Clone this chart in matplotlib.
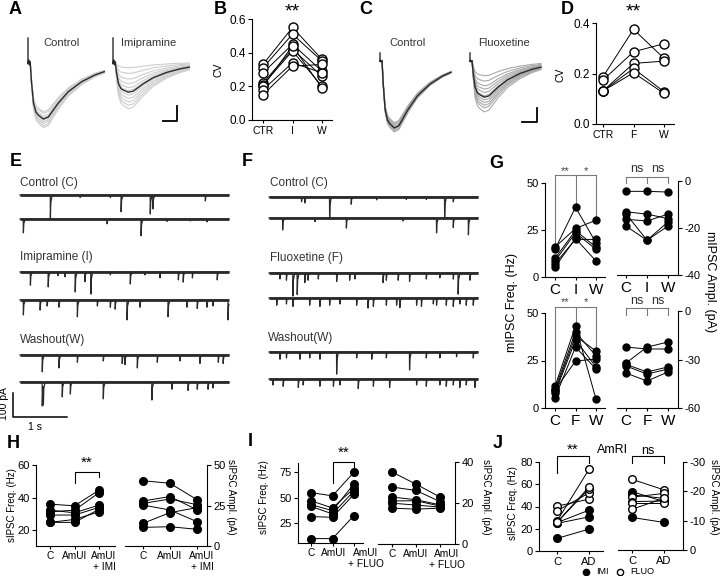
import numpy as np
import matplotlib
matplotlib.use('Agg')
import matplotlib.pyplot as plt

plt.rcParams['font.family'] = ['Liberation Sans', 'DejaVu Sans']
plt.rcParams['axes.unicode_minus'] = False

# ---------------- data ----------------
# A / C: averaged mIPSC template (time in ms-ish units, normalised amplitude)
tmpl_t = [0, 2.2, 3.5, 5.5, 8.0, 10.3, 15.3, 20.3, 30.3, 40.3, 53.7, 67.0, 76.3]
tmpl_a = [0, 0, -0.35, -0.72, -0.88, -0.93, -1.0, -0.965, -0.72, -0.52, -0.345, -0.227, -0.169]
artifact_t = [0, 0, 0.8, 1.5, 2.2]
artifact_a = [1, -0.08, 0.08, -0.12, 0]

a_ctrl_gray = [1.15, 1.12, 1.08, 1.05, 1.02, 0.98, 0.95, 0.9, 0.87]
a_ctrl_mean = 1.0
a_imi_gray = [0.82, 0.76, 0.7, 0.64, 0.58, 0.5, 0.45, 0.38, 0.3, 0.2, 0.1]
a_imi_mean = 0.53
c_ctrl_gray = [1.06, 1.04, 1.02, 1.0, 0.98, 0.96, 0.94, 0.92]
c_ctrl_mean = 1.0
c_flu_gray = [0.76, 0.7, 0.66, 0.62, 0.58, 0.52, 0.47, 0.42, 0.37, 0.3, 0.22]
c_flu_mean = 0.54

# B: CV imipramine
cv_imi_ctr = [0.33, 0.31, 0.28, 0.22, 0.21, 0.20, 0.18, 0.15]
cv_imi_i = [0.55, 0.51, 0.45, 0.42, 0.41, 0.44, 0.34, 0.32]
cv_imi_w = [0.36, 0.35, 0.29, 0.26, 0.20, 0.19, 0.28, 0.33]
# D: CV fluoxetine
cv_flu_ctr = [0.187, 0.174, 0.131, 0.131, 0.131]
cv_flu_f = [0.375, 0.286, 0.24, 0.22, 0.203]
cv_flu_w = [0.26, 0.318, 0.249, 0.128, 0.121]

# E / F: mIPSC events per trace (time s, amplitude pA)
e_times = [
    [0.56, 1.11, 1.67, 1.87, 2.41, 2.46, 3.43],
    [0.06, 1.61, 2.24, 2.72, 3.15, 3.46],
    [0.19, 0.52, 0.70, 0.83, 1.02, 1.20, 1.31, 1.67, 2.04, 2.31, 2.59, 2.93, 3.02, 3.19, 3.65],
    [0.06, 0.37, 0.50, 0.72, 1.06, 1.43, 1.67, 1.76, 1.98, 2.22, 2.74, 3.09, 3.28, 3.46, 3.57, 3.85],
    [0.41, 0.72, 1.06, 1.54, 1.89, 1.94, 2.17, 2.54, 2.96, 3.33, 3.67, 3.76],
    [0.41, 0.43, 0.78, 0.93, 1.54, 2.44, 2.81, 3.11, 3.28, 3.48, 3.57],
]
e_amps = [
    [96, 10, 10, 70, 79, 58, 25],
    [58, 20, 70, 10, 8, 12],
    [55, 62, 15, 20, 83, 40, 92, 12, 50, 12, 25, 33, 42, 25, 33],
    [62, 42, 25, 30, 70, 25, 30, 38, 83, 30, 70, 30, 35, 30, 25, 83],
    [70, 54, 30, 25, 35, 40, 54, 30, 25, 35, 30, 35],
    [100, 80, 62, 50, 70, 75, 30, 35, 30, 30, 25],
]
f_times = [
    [0.60, 0.66, 1.12, 1.52, 1.99, 2.54, 2.91, 3.25, 3.41],
    [0.25, 0.85, 1.43, 2.48, 3.10, 3.41, 3.69],
    [0.20, 0.32, 0.44, 0.52, 0.66, 0.72, 0.91, 1.25, 1.49, 1.59, 2.11, 2.17, 2.39, 2.60, 2.91,
     3.16, 3.41, 3.50, 3.72],
    [0.14, 0.32, 0.44, 0.75, 0.94, 1.12, 1.31, 1.62, 1.83, 1.93, 2.17, 2.36, 2.42, 2.73, 2.82,
     3.04, 3.10, 3.28, 3.41, 3.53, 3.65, 3.78],
    [0.20, 0.32, 0.57, 0.75, 0.94, 1.25, 1.62, 1.90, 2.17, 2.60, 2.91, 3.16, 3.47, 3.78],
    [0.07, 0.26, 0.54, 0.63, 0.94, 1.19, 1.31, 1.65, 1.93, 2.23, 2.73, 2.91, 3.16, 3.28, 3.41,
     3.53, 3.65, 3.81],
]
f_amps = [
    [20, 25, 92, 30, 12, 10, 10, 83, 20],
    [50, 15, 42, 12, 62, 40, 70],
    [25, 30, 96, 90, 40, 30, 25, 35, 30, 25, 40, 30, 30, 35, 25, 20, 25, 88, 30],
    [30, 25, 35, 30, 35, 30, 25, 30, 42, 35, 30, 30, 40, 30, 35, 25, 30, 30, 35, 25, 30, 30],
    [30, 25, 30, 25, 30, 92, 25, 30, 25, 75, 25, 25, 20, 25],
    [25, 30, 35, 25, 30, 30, 25, 40, 30, 35, 25, 30, 25, 30, 25, 35, 25, 35],
]
event_kernel_t = [0, 0.003, 0.009, 0.035]
event_kernel_a = [0, 1, 0.35, 0]

# G: mIPSC frequency / amplitude
g_imi_freq = [[15.9, 14.7, 9.9, 8.5, 7.1, 5.3],
              [25.8, 37.1, 24.7, 23.5, 20.0, 20.5],
              [30.2, 18.2, 15.9, 14.7, 20.0, 8.5]]
g_imi_amp = [[-4.4, -13.1, -16.3, -19.2, -14.0],
             [-4.4, -14.1, -17.0, -25.2, -25.2],
             [-4.7, -16.0, -14.1, -17.4, -19.2]]
g_flu_freq = [[11.4, 10.0, 8.8, 7.9, 5.3, 9.5],
              [43.2, 40.0, 37.9, 35.8, 32.1, 24.7],
              [4.7, 27.4, 30.0, 21.6, 20.5, 25.8]]
g_flu_amp = [[-22.3, -32.2, -34.0, -38.4, -33.0],
             [-23.5, -22.3, -39.0, -43.3, -37.7],
             [-23.5, -19.2, -35.9, -37.7, -34.6]]

# H
h_freq = [[35.9, 31.2, 32.2, 29.2, 24.7, 24.7],
          [34.9, 32.2, 30.6, 29.2, 26.5, 24.7],
          [44.5, 42.9, 35.3, 33.9, 31.2, 32.7]]
h_amp = [[40.3, 27.8, 26.3, 25.3, 14.0, 11.5],
         [38.7, 30.5, 29.0, 22.2, 20.6, 11.9],
         [28.6, 22.4, 25.5, 15.0, 23.7, 10.3]]
h_labels = ['C', 'AmUI', 'AmUI\n+ IMI']
# I
i_freq = [[54.8, 46.8, 43.0, 41.3, 31.3, 9.7],
          [51.6, 39.7, 37.1, 33.9, 30.6, 9.7],
          [74.8, 59.0, 63.5, 56.5, 53.2, 32.3]]
i_amp = [[35.1, 27.8, 22.9, 21.0, 19.9, 17.5],
         [29.2, 26.1, 21.6, 21.1, 19.0, 17.0],
         [22.9, 20.7, 19.1, 18.5, 18.0, 17.5]]
i_labels = ['C', 'AmUI', 'AmUI\n+ FLUO']
# J
j_freq_imi = [[11.3, 24.8, 25.5], [19.7, 30.7, 36.7]]
j_freq_flu = [[40.3, 36.1, 26.9, 25.7, 25.7], [46.6, 52.2, 73.4, 56.1, 57.6]]
j_amp_imi = [[-19.9, -18.8, -11.1], [-16.5, -17.6, -9.4]]
j_amp_flu = [[-24.1, -18.0, -16.5, -15.9, -13.9], [-20.5, -19.3, -16.7, -15.9, -17.6]]

# ---------------- helpers ----------------
W, H = 720, 576
fig = plt.figure(figsize=(7.2, 5.76), dpi=100)
DARK = '#2a2a2a'
XLAB = 7.3


def add_ax(x0, x1, y0, y1):
    return fig.add_axes([x0 / W, 1 - y1 / H, (x1 - x0) / W, (y1 - y0) / H])


def lim_from(p0, p1, pa, va, pb, vb):
    k = (vb - va) / (pb - pa)
    return va + (p0 - pa) * k, va + (p1 - pa) * k


def ftext(x, y, s, **kw):
    kw.setdefault('ha', 'center')
    kw.setdefault('va', 'center')
    fig.text(x / W, 1 - y / H, s, **kw)


def style(ax, side='left', ylab_size=8, xlab_size=XLAB):
    for s in ['top', 'right', 'left']:
        ax.spines[s].set_visible(False)
    ax.spines[side].set_visible(True)
    for s in ax.spines.values():
        s.set_linewidth(0.8)
    if side == 'right':
        ax.yaxis.tick_right()
    ax.tick_params(axis='y', direction='out', length=3, width=0.8, labelsize=ylab_size, pad=1.5)
    ax.tick_params(axis='x', direction='out', length=2, width=0.8, labelsize=xlab_size, pad=2)
    ax.patch.set_alpha(0)


def xlabels(ax, labels, shifts_px, size=XLAB):
    # category labels under the axis; shifts in pixels (last label sits right of its tick)
    ax.set_xticks(range(len(labels)))
    ax.set_xticklabels([''] * len(labels))
    for i, (lab, dx) in enumerate(zip(labels, shifts_px)):
        ax.annotate(lab, xy=(i, 0), xycoords=('data', 'axes fraction'),
                    xytext=(dx * 0.72, -3.5), textcoords='offset points',
                    ha='center', va='top', fontsize=size, linespacing=1.1,
                    annotation_clip=False)


def paired(ax, groups, filled=True, ms=5.5, mew=1.0):
    xs = list(range(len(groups)))
    for j in range(len(groups[0])):
        ax.plot(xs, [g[j] for g in groups], '-', color='k', lw=0.7, zorder=2, clip_on=False)
    for i, g in enumerate(groups):
        ax.plot([i] * len(g), g, 'o', ls='none', ms=ms, mfc='k' if filled else 'white',
                mec='k', mew=mew, zorder=3, clip_on=False)


def draw_avg(ax, scales, mean, amp, t0, tscale, color, art_h):
    t = np.array(tmpl_t) * tscale + t0
    for s in scales:
        ax.plot(t, np.array(tmpl_a) * amp * s, color=color, lw=0.8)
    ax.plot(t, np.array(tmpl_a) * amp * mean, color=DARK, lw=1.0)
    ax.plot(np.array(artifact_t) * tscale + t0, np.array(artifact_a) * art_h, color=DARK, lw=1.0)


def draw_traces(ax, times, amps, rows, ypx):
    grid = np.arange(0, 3.87, 0.001)
    for tr, am, r in zip(times, amps, rows):
        y = np.zeros_like(grid)
        for t, a in zip(tr, am):
            y -= a * np.interp(grid - t, event_kernel_t, event_kernel_a, left=0, right=0)
        base = ypx(r)
        # noisy baseline band plus thin event trace
        ax.plot([grid[0], grid[-1]], [base - 1.5, base - 1.5], color=DARK, lw=2.0,
                solid_capstyle='butt')
        ax.plot(grid, y + base, color=DARK, lw=0.9)


def sig_text(ax, x, y, s, size=9, color='k'):
    ax.text(x, y, s, ha='center', va='center', fontsize=size, color=color, clip_on=False)


# ---------------- A ----------------
ax = add_ax(20, 195, 28, 135)
ax.set_xlim(-8, 167)
ax.set_ylim(-73, 34)
ax.axis('off')
draw_avg(ax, a_ctrl_gray, a_ctrl_mean, 57, 0, 1.0, '#cdcdcd', 24)
draw_avg(ax, a_imi_gray, a_imi_mean, 57, 85, 1.0, '#cdcdcd', 24)
ax.plot([135, 149, 149], [-59, -59, -44], color='k', lw=1.3)
ftext(61, 43, 'Control', fontsize=8, color='#333333')
ftext(149, 43, 'Imipramine', fontsize=8, color='#333333')

# ---------------- C ----------------
ax = add_ax(372, 550, 28, 135)
ax.set_xlim(-8, 170)
ax.set_ylim(-74, 33)
ax.axis('off')
draw_avg(ax, c_ctrl_gray, c_ctrl_mean, 67, 0, 0.93, '#a9a9a9', 8)
draw_avg(ax, c_flu_gray, c_flu_mean, 67, 90, 0.93, '#a9a9a9', 8)
ax.plot([142, 157, 157], [-61, -61, -47], color='k', lw=1.3)
ftext(407, 43, 'Control', fontsize=8, color='#333333')
ftext(504, 43, 'Fluoxetine', fontsize=8, color='#333333')

# ---------------- B ----------------
ax = add_ax(252, 332, 19, 120)
ax.set_xlim(lim_from(252, 332, 263, 0, 322, 2))
ax.set_ylim(0, 0.6)
style(ax, ylab_size=8.5, xlab_size=7.5)
paired(ax, [cv_imi_ctr, cv_imi_i, cv_imi_w], filled=False, ms=6.5)
ax.set_yticks([0, 0.2, 0.4, 0.6])
ax.set_yticklabels(['0.0', '0.2', '0.4', '0.6'])
ax.set_xticks([0, 1, 2])
ax.set_xticklabels(['CTR', 'I', 'W'])
ftext(219, 70, 'CV', fontsize=7.5, rotation=90)
ftext(292, 12, '**', fontsize=14)

# ---------------- D ----------------
ax = add_ax(596, 674, 23, 124)
ax.set_xlim(lim_from(596, 674, 603, 0, 664, 2))
ax.set_ylim(0, 0.4)
style(ax, ylab_size=8.5, xlab_size=7.5)
paired(ax, [cv_flu_ctr, cv_flu_f, cv_flu_w], filled=False, ms=6.5)
ax.set_yticks([0, 0.2, 0.4])
ax.set_yticklabels(['0.0', '0.2', '0.4'])
ax.set_xticks([0, 1, 2])
ax.set_xticklabels(['CTR', 'F', 'W'])
ftext(560, 75, 'CV', fontsize=7.5, rotation=90)
ftext(633, 12, '**', fontsize=14)

# ---------------- E / F traces ----------------
def ypx(p):
    return -(p - 160) * 100 / 24


ax = add_ax(0, 240, 160, 440)
ax.set_xlim((0 - 20) / 54, (240 - 20) / 54)
ax.set_ylim(ypx(440), 0)
ax.axis('off')
draw_traces(ax, e_times, e_amps, [195, 219, 272, 300, 355, 382], ypx)
ax.plot([-0.13, -0.13, 0.87], [ypx(417) + 100, ypx(417), ypx(417)], color='k', lw=1.1)
ftext(20, 183, 'Control (C)', fontsize=8.5, ha='left', color='#333333')
ftext(20, 257, 'Imipramine (I)', fontsize=8.5, ha='left', color='#333333')
ftext(20, 340, 'Washout(W)', fontsize=8.5, ha='left', color='#333333')
ftext(4, 404, '100 pA', fontsize=7.5, rotation=90)
ftext(35, 427, '1 s', fontsize=7.5)

ax = add_ax(250, 490, 160, 440)
ax.set_xlim((250 - 269) / 54, (490 - 269) / 54)
ax.set_ylim(ypx(440), 0)
ax.axis('off')
draw_traces(ax, f_times, f_amps, [197, 218, 273, 298, 352, 379], ypx)
ftext(270, 183, 'Control (C)', fontsize=8.5, ha='left', color='#333333')
ftext(270, 258, 'Fluoxetine (F)', fontsize=8.5, ha='left', color='#333333')
ftext(268, 338, 'Washout(W)', fontsize=8.5, ha='left', color='#333333')

# ---------------- G ----------------
GRAY = '#7a7a7a'


def g_left(y0, y1, groups, labels, br_y, txt_y, stars):
    ax = add_ax(545, 605, y0, y1)
    ax.set_xlim(lim_from(545, 605, 555, 0, 596, 2))
    ax.set_ylim(0, 50)
    style(ax, xlab_size=11)
    paired(ax, groups, filled=True, ms=5)
    ax.set_yticks([0, 25, 50])
    ax.set_xticks([0, 1, 2])
    ax.set_xticklabels(labels)
    ax.plot([0, 2], [br_y, br_y], color=GRAY, lw=0.8, clip_on=False)
    for i, g in enumerate(groups):
        ax.plot([i, i], [br_y, max(g) + 1.5], color=GRAY, lw=0.8, clip_on=False)
    sig_text(ax, 0.5, txt_y, stars[0], size=8, color='#444444')
    sig_text(ax, 1.5, txt_y, stars[1], size=8, color='#444444')


def g_right(y0, y1, groups, labels, lim, ticks, br_y, tick_y, txt_y):
    ax = add_ax(617, 678, y0, y1)
    ax.set_xlim(lim_from(617, 678, 626, 0, 668, 2))
    ax.set_ylim(lim)
    style(ax, side='right', xlab_size=11)
    paired(ax, groups, filled=True, ms=5)
    ax.set_yticks(ticks)
    ax.set_xticks([0, 1, 2])
    ax.set_xticklabels(labels)
    ax.plot([0, 2], [br_y, br_y], color=GRAY, lw=0.8, clip_on=False)
    for i in range(3):
        ax.plot([i, i], [br_y, tick_y], color=GRAY, lw=0.8, clip_on=False)
    sig_text(ax, 0.5, txt_y, 'ns', size=9, color='#333333')
    sig_text(ax, 1.5, txt_y, 'ns', size=9, color='#333333')


g_left(183, 277, g_imi_freq, ['C', 'I', 'W'], 54.3, 56.6, ['**', '*'])
g_right(181, 275, g_imi_amp, ['C', 'I', 'W'], (-40, 0), [-40, -20, 0], 1.7, -0.9, 5.1)
g_left(313, 408, g_flu_freq, ['C', 'F', 'W'], 53.2, 55.6, ['**', '*'])
g_right(311, 408, g_flu_amp, ['C', 'F', 'W'], (-60, 0), [-60, -30, 0], 1.9, -2.5, 6.2)
ftext(512, 303, 'mIPSC Freq. (Hz)', fontsize=9, rotation=90)
ftext(710, 282, 'mIPSC Ampl. (pA)', fontsize=9, rotation=270)

# ---------------- H ----------------
ax = add_ax(36, 115, 465, 546)
ax.set_xlim(lim_from(36, 115, 50, 0, 99, 2))
ax.set_ylim(lim_from(546, 465, 530, 20, 465, 60))
style(ax)
paired(ax, h_freq, ms=5.5)
ax.set_yticks([20, 40, 60])
xlabels(ax, h_labels, [0, 0, 5])
ax.plot([1, 1, 2, 2], [48.9, 55.7, 55.7, 52.6], color='k', lw=0.8, clip_on=False)
sig_text(ax, 1.5, 61.2, '**', size=11)
ftext(12, 505, 'sIPSC Freq. (Hz)', fontsize=7, rotation=90)

ax = add_ax(125, 207, 465, 546)
ax.set_xlim(lim_from(125, 207, 143, 0, 197, 2))
ax.set_ylim(0, 50)
style(ax, side='right')
paired(ax, h_amp, ms=5.5)
ax.set_yticks([0, 25, 50])
xlabels(ax, h_labels, [0, 0, 5])
ftext(231, 497, 'sIPSC Ampl. (pA)', fontsize=7, rotation=270)

# ---------------- I ----------------
ax = add_ax(298, 363, 463, 543)
ax.set_xlim(lim_from(298, 363, 311, 0, 354, 2))
ax.set_ylim(lim_from(543, 463, 523, 25, 472, 75))
style(ax)
paired(ax, i_freq, ms=5.5)
ax.set_yticks([25, 50, 75])
xlabels(ax, i_labels, [0, 1, 12])
ax.plot([1, 1, 2, 2], [64.2, 84.8, 84.8, 79.9], color='k', lw=0.8, clip_on=False)
sig_text(ax, 1.5, 93.6, '**', size=11)
ftext(264, 497, 'sIPSC Freq. (Hz)', fontsize=7, rotation=90)

ax = add_ax(378, 455, 462, 544)
ax.set_xlim(lim_from(378, 455, 392, 0, 440, 2))
ax.set_ylim(0, 40)
style(ax, side='right')
paired(ax, i_amp, ms=5.5)
ax.set_yticks([0, 20, 40])
xlabels(ax, i_labels, [0, 0, 7])
ftext(486, 497, 'sIPSC Ampl. (pA)', fontsize=7, rotation=270)

# ---------------- J ----------------
ax = add_ax(539, 603, 462, 551)
ax.set_xlim(lim_from(539, 603, 557, 0, 589, 1))
ax.set_ylim(0, 80)
style(ax)
paired(ax, j_freq_imi, filled=True, ms=5.5)
paired(ax, j_freq_flu, filled=False, ms=5.5)
ax.set_yticks([0, 20, 40, 60, 80])
ax.set_xticks([0, 1])
ax.set_xticklabels(['C', 'AD'], fontsize=8)
ax.plot([0, 0, 1, 1], [70.1, 85.4, 85.4, 79.1], color='k', lw=0.8, clip_on=False)
sig_text(ax, 0.5, 90.8, '**', size=11)
ftext(513, 503, 'sIPSC Freq. (Hz)', fontsize=7, rotation=90)

ax = add_ax(618, 683, 462, 550)
ax.set_xlim(lim_from(618, 683, 632, 0, 664, 1))
ax.set_ylim(0, -30)
style(ax, side='right')
paired(ax, j_amp_imi, filled=True, ms=5.5)
paired(ax, j_amp_flu, filled=False, ms=5.5)
ax.set_yticks([-30, -20, -10, 0])
ax.set_xticks([0, 1])
ax.set_xticklabels(['C', 'AD'], fontsize=8)
ax.plot([0, 0, 1, 1], [-29.7, -32.0, -32.0, -29.7], color='k', lw=0.8, clip_on=False)
sig_text(ax, 0.5, -33.9, 'ns', size=9)
ftext(714, 497, 'sIPSC Ampl. (pA)', fontsize=7, rotation=270)
ftext(612, 450, 'AmRI', fontsize=9)

# legend of J
fig.lines.append(plt.Line2D([586 / W], [1 - 572 / H], marker='o', ms=4.5, mfc='k', mec='k',
                            ls='none', transform=fig.transFigure))
fig.lines.append(plt.Line2D([620 / W], [1 - 572 / H], marker='o', ms=4.5, mfc='white', mec='k',
                            ls='none', transform=fig.transFigure))
ftext(596, 572, 'IMI', fontsize=6.5, ha='left')
ftext(630, 572, 'FLUO', fontsize=6.5, ha='left')

# ---------------- panel letters ----------------
for lab, x, y in [('A', 15, 10), ('B', 220, 10), ('C', 366, 9), ('D', 567, 10),
                  ('E', 16, 162), ('F', 247, 162), ('G', 496, 163),
                  ('H', 13, 444), ('I', 250, 442), ('J', 498, 444)]:
    ftext(x, y, lab, fontsize=13, fontweight='bold')

fig.savefig('out.png', dpi=100)
